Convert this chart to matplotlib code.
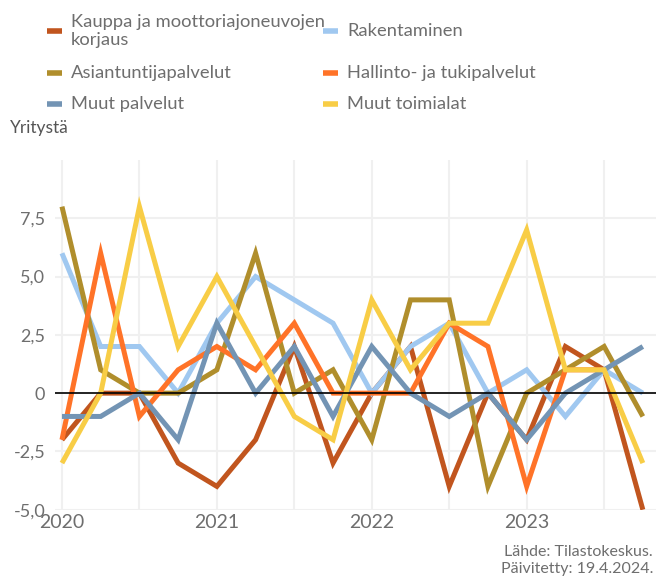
import matplotlib
matplotlib.use("Agg")
import matplotlib.pyplot as plt
from matplotlib.lines import Line2D
import numpy as np

plt.rcParams['font.family'] = ['Lato', 'DejaVu Sans']

quarters = ['2020Q1', '2020Q2', '2020Q3', '2020Q4', '2021Q1', '2021Q2', '2021Q3', '2021Q4',
            '2022Q1', '2022Q2', '2022Q3', '2022Q4', '2023Q1', '2023Q2', '2023Q3', '2023Q4']
year_labels = ['2020', '2021', '2022', '2023']

kauppa = [-2, 0, 0, -3, -4, -2, 2, -3, 0, 2, -4, 0, -2, 2, 1, -5]
rakentaminen = [6, 2, 2, 0, 3, 5, 4, 3, 0, 2, 3, 0, 1, -1, 1, 0]
asiantuntija = [8, 1, 0, 0, 1, 6, 0, 1, -2, 4, 4, -4, 0, 1, 2, -1]
hallinto = [-2, 6, -1, 1, 2, 1, 3, 0, 0, 0, 3, 2, -4, 1, 1, np.nan]
muut_palvelut = [-1, -1, 0, -2, 3, 0, 2, -1, 2, 0, -1, 0, -2, 0, 1, 2]
muut_toimialat = [-3, 0, 8, 2, 5, 2, -1, -2, 4, 1, 3, 3, 7, 1, 1, -3]

names = ['Kauppa ja moottoriajoneuvojen\nkorjaus', 'Rakentaminen',
         'Asiantuntijapalvelut', 'Hallinto- ja tukipalvelut',
         'Muut palvelut', 'Muut toimialat']
series = [kauppa, rakentaminen, asiantuntija, hallinto, muut_palvelut, muut_toimialat]
colors = ['#c1551e', '#a0c8f0', '#b08e2c', '#ff7328', '#7394b4', '#f8cd46']

W, H = 656, 581
fig = plt.figure(figsize=(W / 100, H / 100), dpi=100)
ax = fig.add_axes([55 / W, 71.3 / H, 601 / W, 349.7 / H])

x = np.arange(len(quarters))
for vals, c in zip(series, colors):
    ax.plot(x, vals, color=c, lw=3.6, solid_joinstyle='miter', solid_capstyle='butt', zorder=2)

ax.axhline(0, color='black', lw=1.2, zorder=4)
ax.set_xlim(-0.18, 15.34)
ax.set_ylim(-5, 10)

yt = [-5, -2.5, 0, 2.5, 5, 7.5]
ax.set_yticks(yt)
ax.set_yticklabels(['0' if v == 0 else f'{v:.1f}'.replace('.', ',') for v in yt])
ax.set_xticks(range(0, 16, 2))
ax.set_xticklabels([year_labels[i // 4] if i % 4 == 0 else '' for i in range(0, 16, 2)])
ax.tick_params(length=0, labelsize=13, colors='#6e6e6e')
ax.tick_params(axis='y', pad=7)
ax.tick_params(axis='x', pad=3, labelsize=14)
ax.grid(True, color='#f0f0f0', lw=1.5, zorder=0)
for s in ax.spines.values():
    s.set_visible(False)

# legend (row-aligned, two columns)
rows_y = [31, 73, 104]
col_handle_x = [47, 323]
col_text_x = [71, 347]
for i, (name, c) in enumerate(zip(names, colors)):
    r, col = i // 2, i % 2
    yy = 1 - rows_y[r] / H
    fig.add_artist(Line2D([col_handle_x[col] / W, (col_handle_x[col] + 15) / W], [yy, yy],
                          color=c, lw=4, solid_capstyle='butt', transform=fig.transFigure))
    fig.text(col_text_x[col] / W, yy, name, ha='left', va='center', fontsize=13.2,
             color='#6e6e6e', linespacing=1.2)

fig.text(10 / W, 1 - 128 / H, 'Yritystä', ha='left', va='center', fontsize=12.5,
         color='#555555')
fig.text(653 / W, 1 - 552 / H, 'Lähde: Tilastokeskus.', ha='right', va='center',
         fontsize=11.5, color='#6e6e6e')
fig.text(653 / W, 1 - 569 / H, 'Päivitetty: 19.4.2024.', ha='right', va='center',
         fontsize=11.5, color='#6e6e6e')

fig.savefig('out.png', dpi=100)
